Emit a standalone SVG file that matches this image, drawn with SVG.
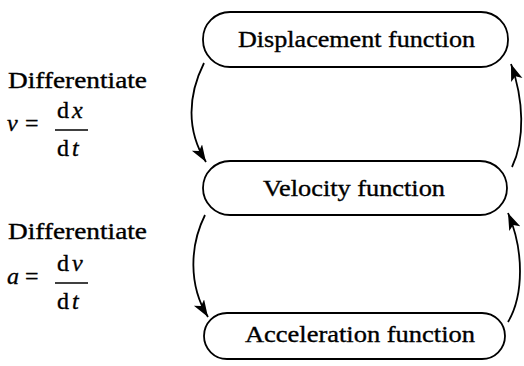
<svg xmlns="http://www.w3.org/2000/svg" width="524" height="366" viewBox="0 0 524 366">
<style>
.box{fill:#fff;stroke:#000;stroke-width:1.8}
.t{font-family:"Liberation Serif","Times New Roman",serif;font-size:23px;fill:#000;stroke:#000;stroke-width:0.35}
.m{font-size:24px}
.it{font-style:italic}
.con{fill:none;stroke:#000;stroke-width:1.8}
.bar{stroke:#000;stroke-width:1.4}
</style>
<defs>
<marker id="ah" markerUnits="userSpaceOnUse" markerWidth="18" markerHeight="13" refX="17" refY="6" orient="auto">
<path d="M0,0 L17,6 L0,12 L4,6 z" fill="#000"/>
</marker>
</defs>
<rect width="524" height="366" fill="#fff"/>
<g id="displacement">
<rect class="box" x="203" y="12" width="305" height="55" rx="27" ry="27"/>
<text class="t" x="238" y="47" textLength="237" lengthAdjust="spacingAndGlyphs">Displacement function</text>
</g>
<g id="velocity">
<rect class="box" x="203" y="161" width="304" height="54" rx="27" ry="27"/>
<text class="t" x="263" y="196" textLength="182" lengthAdjust="spacingAndGlyphs">Velocity function</text>
</g>
<g id="acceleration">
<rect class="box" x="204" y="313" width="301" height="46" rx="23" ry="23"/>
<text class="t" x="245" y="342" textLength="230" lengthAdjust="spacingAndGlyphs">Acceleration function</text>
</g>
<g id="labels">
<text class="t" x="8" y="88" textLength="139" lengthAdjust="spacingAndGlyphs">Differentiate</text>
<text class="t m it" x="7" y="131">v</text>
<text class="t m" x="25" y="131">=</text>
<text class="t m" x="57" y="118">d<tspan class="it" dx="3">x</tspan></text>
<line class="bar" x1="55" y1="130" x2="88" y2="130"/>
<text class="t m" x="57" y="156">d<tspan class="it" dx="3">t</tspan></text>
<text class="t" x="8" y="239" textLength="139" lengthAdjust="spacingAndGlyphs">Differentiate</text>
<text class="t m it" x="7" y="284">a</text>
<text class="t m" x="25" y="284">=</text>
<text class="t m" x="57" y="271">d<tspan class="it" dx="3">v</tspan></text>
<line class="bar" x1="55" y1="283" x2="88" y2="283"/>
<text class="t m" x="57" y="309">d<tspan class="it" dx="3">t</tspan></text>
</g>
<g id="connectors">
<path class="con" d="M204,63 C188,95 186,130 206,162" marker-end="url(#ah)"/>
<path class="con" d="M512,167 C525,140 524,100 511,64" marker-end="url(#ah)"/>
<path class="con" d="M205,215 C190,245 188,285 208,317" marker-end="url(#ah)"/>
<path class="con" d="M508,322 C524,295 524,250 508,213" marker-end="url(#ah)"/>
</g>
</svg>
